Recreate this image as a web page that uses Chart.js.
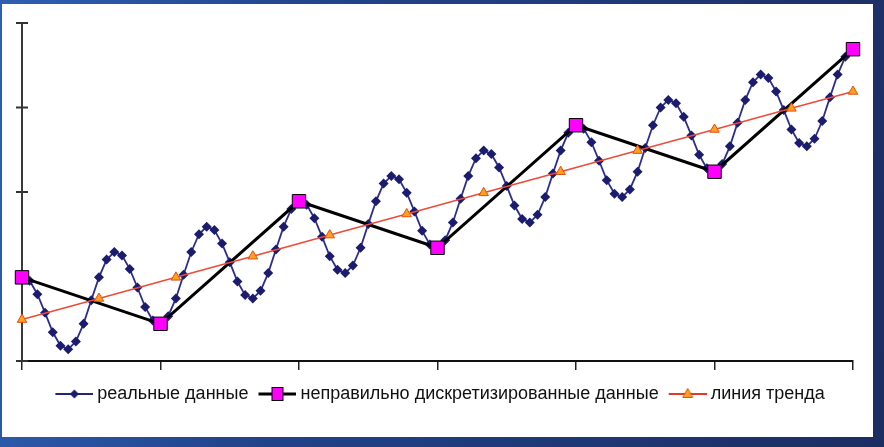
<!DOCTYPE html>
<html>
<head>
<meta charset="utf-8">
<script src="https://cdn.jsdelivr.net/npm/chart.js@4"></script>
<style>
  html, body { margin: 0; padding: 0; }
  body {
    width: 884px; height: 447px; overflow: hidden;
    background: linear-gradient(100deg, #2e5fb2 0%, #21438a 35%, #1c2d62 100%);
  }
  #panel {
    position: absolute; left: 2px; top: 4px; width: 871px; height: 433px;
    background: #ffffff;
  }
</style>
</head>
<body>
<div id="panel"><canvas id="myChart" width="871" height="433"></canvas></div>
<script>
// Legend names
let seriesNames = [
  "реальные данные",
  "неправильно дискретизированные данные",
  "линия тренда",
];

// Real data, one value per sample (109 samples)
let realValues = [
  0.99, 0.95, 0.79, 0.57, 0.34, 0.18, 0.14, 0.23, 0.44, 0.72, 0.99, 1.20,
  1.29, 1.25, 1.09, 0.87, 0.64, 0.48, 0.44, 0.53, 0.74, 1.02, 1.29, 1.50,
  1.59, 1.55, 1.39, 1.17, 0.94, 0.78, 0.74, 0.83, 1.04, 1.32, 1.59, 1.80,
  1.89, 1.85, 1.69, 1.47, 1.24, 1.08, 1.04, 1.13, 1.34, 1.62, 1.89, 2.10,
  2.19, 2.15, 1.99, 1.77, 1.54, 1.38, 1.34, 1.43, 1.64, 1.92, 2.19, 2.40,
  2.49, 2.45, 2.29, 2.07, 1.84, 1.68, 1.64, 1.73, 1.94, 2.22, 2.49, 2.70,
  2.79, 2.75, 2.59, 2.37, 2.14, 1.98, 1.94, 2.03, 2.24, 2.52, 2.79, 3.00,
  3.09, 3.05, 2.89, 2.67, 2.44, 2.28, 2.24, 2.33, 2.54, 2.82, 3.09, 3.30,
  3.39, 3.35, 3.19, 2.97, 2.74, 2.58, 2.54, 2.63, 2.84, 3.12, 3.39, 3.60,
  3.69,
];

// Wrongly sampled data: sample index and value
let sampledIndex = [0, 18, 36, 54, 72, 90, 108];
let sampledValues = [0.99, 0.44, 1.89, 1.34, 2.79, 2.24, 3.69];

// Trend line points
let trendIndex = [0, 10, 20, 30, 40, 50, 60, 70, 80, 90, 100, 108];
let trendValues = [0.49, 0.74, 0.99, 1.24, 1.49, 1.74, 1.99, 2.24, 2.49, 2.74, 2.99, 3.19];

// Axis ticks
let xTicks = [0, 18, 36, 54, 72, 90, 108];
let yTicks = [0, 1, 2, 3, 4];

// Small pictures for the legend: a line with a marker on it.
// The picture is wider than the legend box, the line sits in its right part

function legendIcon(lineColor, lineWidth, drawMarker) {
  let c = document.createElement("canvas");
  c.width = 48;
  c.height = 16;
  let ctx = c.getContext("2d");
  ctx.strokeStyle = lineColor;
  ctx.lineWidth = lineWidth;
  ctx.beginPath();
  ctx.moveTo(10, 8);
  ctx.lineTo(48, 8);
  ctx.stroke();
  drawMarker(ctx);
  return c;
}

let icons = [
  legendIcon("#24247a", 2, function (ctx) {
    ctx.fillStyle = "#1c1c6e";
    ctx.beginPath();
    ctx.moveTo(29, 3.5);
    ctx.lineTo(33.5, 8);
    ctx.lineTo(29, 12.5);
    ctx.lineTo(24.5, 8);
    ctx.closePath();
    ctx.fill();
  }),
  legendIcon("#000000", 3, function (ctx) {
    ctx.fillStyle = "#ff00ff";
    ctx.strokeStyle = "#000000";
    ctx.lineWidth = 1;
    ctx.fillRect(23.5, 1.5, 11, 13);
    ctx.strokeRect(23.5, 1.5, 11, 13);
  }),
  legendIcon("#e03a2a", 2, function (ctx) {
    ctx.fillStyle = "#ffa020";
    ctx.strokeStyle = "#e05010";
    ctx.lineWidth = 1;
    ctx.beginPath();
    ctx.moveTo(29, 2.5);
    ctx.lineTo(34, 11.5);
    ctx.lineTo(24, 11.5);
    ctx.closePath();
    ctx.fill();
    ctx.stroke();
  }),
];

// Y axis ticks in Excel style cross the axis line (drawn under the markers)

let crossTicks = {
  id: "crossTicks",
  beforeDatasetsDraw(chart) {
    let ctx = chart.ctx;
    let yScale = chart.scales.y;
    let x = chart.chartArea.left;
    ctx.save();
    ctx.strokeStyle = "#333333";
    ctx.lineWidth = 2;
    yTicks.forEach(function (v) {
      let y = yScale.getPixelForValue(v);
      ctx.beginPath();
      ctx.moveTo(x - 6, y);
      ctx.lineTo(x + 6, y);
      ctx.stroke();
    });
    ctx.restore();
  },
};

function createChart() {
  new Chart("myChart", {
    type: "line",
    data: {
      datasets: [
        {
          label: seriesNames[0],
          data: realValues.map(function (v, i) {
            return { x: i, y: v };
          }),
          borderColor: "#2c2c92",
          borderWidth: 1.8,
          pointStyle: "rectRot",
          pointRadius: 5,
          pointBackgroundColor: "#1c1c6e",
          pointBorderColor: "#1c1c6e",
          pointBorderWidth: 0,
          clip: false,
          order: 3,
        },
        {
          label: seriesNames[1],
          data: sampledIndex.map(function (x, i) {
            return { x: x, y: sampledValues[i] };
          }),
          borderColor: "#000000",
          borderWidth: 3,
          pointStyle: "rect",
          pointRadius: 9.5,
          pointBackgroundColor: "#ff00ff",
          pointBorderColor: "#000000",
          pointBorderWidth: 1,
          clip: false,
          order: 2,
        },
        {
          label: seriesNames[2],
          data: trendIndex.map(function (x, i) {
            return { x: x, y: trendValues[i] };
          }),
          borderColor: "#ee4a3a",
          borderWidth: 1.5,
          pointStyle: "triangle",
          pointRadius: 5.5,
          pointBackgroundColor: "#ffa020",
          pointBorderColor: "#e05010",
          pointBorderWidth: 1,
          clip: false,
          order: 1,
        },
      ],
    },
    options: {
      animation: false,
      responsive: false,
      layout: {
        padding: { left: 20, right: 20, top: 19, bottom: 24 },
      },
      scales: {
        x: {
          type: "linear",
          min: xTicks[0],
          max: xTicks[xTicks.length - 1],
          afterBuildTicks: function (scale) {
            scale.ticks = xTicks.map(function (v) {
              return { value: v };
            });
          },
          afterFit: function (scale) {
            scale.height = 19;
          },
          ticks: { display: false },
          grid: {
            drawOnChartArea: false,
            drawTicks: true,
            tickLength: 9,
            color: "#222222",
            lineWidth: 1.5,
          },
          border: { color: "#111111", width: 2 },
        },
        y: {
          min: yTicks[0],
          max: yTicks[yTicks.length - 1],
          afterFit: function (scale) {
            scale.width = 0;
          },
          ticks: { display: false, stepSize: 1 },
          grid: { display: false },
          border: { color: "#3a3a3a", width: 2 },
        },
      },
      plugins: {
        tooltip: { enabled: false },
        legend: {
          position: "bottom",
          labels: {
            usePointStyle: true,
            pointStyleWidth: 38,
            padding: 5,
            color: "#111111",
            font: { family: "'Liberation Sans', Arial, sans-serif", size: 18 },
            sort: function (a, b) {
              return a.datasetIndex - b.datasetIndex;
            },
            generateLabels: function (chart) {
              let items = Chart.defaults.plugins.legend.labels.generateLabels(chart);
              items.forEach(function (item) {
                item.pointStyle = icons[item.datasetIndex];
              });
              return items;
            },
          },
        },
      },
    },
    plugins: [crossTicks],
  });
}

createChart();
</script>
</body>
</html>
